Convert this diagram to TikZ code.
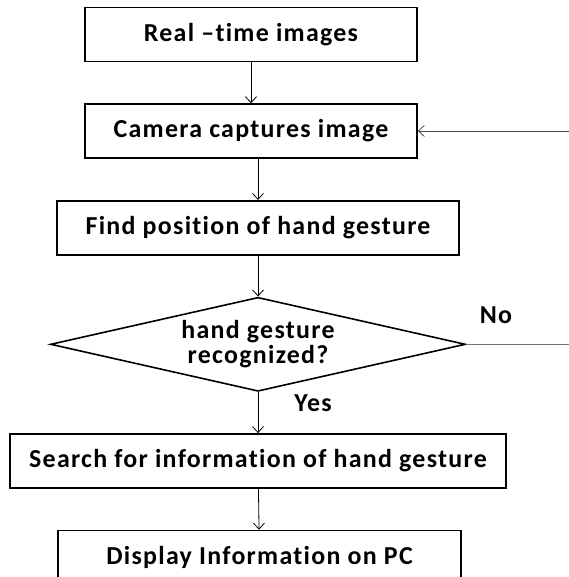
\documentclass[tikz,border=0pt]{standalone}
\usepackage{fontspec}
\setmainfont{Carlito}[Ligatures=CommonOff, LetterSpace=5]
\usepackage{tikz}
\usetikzlibrary{positioning,shapes.geometric,arrows.meta}

\begin{document}
\begin{tikzpicture}[x=1bp, y=1bp, node distance=41bp,
                    >={Straight Barb[length=6bp,width=11bp]},
                    block/.style={rectangle, draw, line width=1.6bp, inner sep=0pt,
                    minimum height=54bp, font=\fontsize{26}{28}\selectfont\bfseries},
                    decision/.style={diamond, draw, line width=1.6bp, inner sep=0pt, align=center,
                    aspect=4.4, minimum width=415bp, minimum height=94bp,
                    font=\fontsize{26}{25}\selectfont\bfseries},
                    line/.style={line width=0.8bp}]
    \useasboundingbox (0,0) rectangle (569,-577);
    \node [block, minimum width=332bp] (realtime) at (251,-34.5) {Real --time images};
    \node [block, minimum width=332bp, below=of realtime] (camera) {Camera captures image};
    \node [block, minimum width=402bp, below=of camera, xshift=7bp] (findpos) {Find position of hand gesture};
    \node [decision, below=of findpos] (recog) {hand gesture\\recognized?};
    \node [font=\fontsize{26}{28}\selectfont\bfseries] (yes) at (313,-403) {Yes};
    \node [font=\fontsize{26}{28}\selectfont\bfseries] (no) at (496,-315) {No};
    \node [block, minimum width=496bp, below=of recog] (search) {Search for information of hand gesture};
    \node [block, minimum width=403bp, below=of search, xshift=1.5bp] (display) {Display Information on PC};
    \coordinate (noend) at (569,-341);
    \coordinate (backin) at (569,-131);
    
    \draw [line, ->] (realtime) -- (camera);
    \draw [line, ->] (camera.south -| findpos) -- (findpos);
    \draw [line, ->] (findpos) -- (recog);
    \draw [line, ->] (recog) -- (search);
    \draw [line, ->] (search) -- (display);
    \draw [line, line width=1.2bp, black!55] (recog.east) -- (recog.east -| noend);
    \draw [line, black!70, ->] (backin) -- (camera.east |- backin);
\end{tikzpicture}
\end{document}
